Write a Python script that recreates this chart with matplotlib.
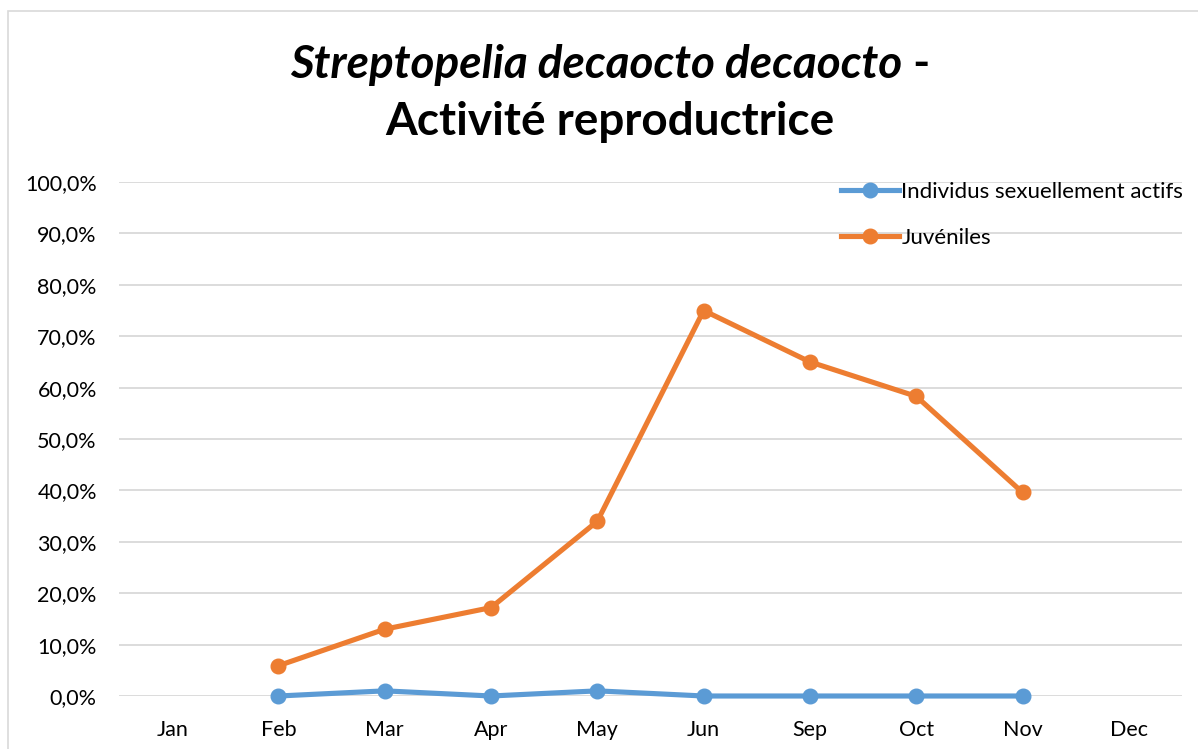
import matplotlib
matplotlib.use("Agg")
import numpy as np
import matplotlib.pyplot as plt
from matplotlib.patches import Rectangle
from matplotlib.ticker import FuncFormatter, MultipleLocator

plt.rcParams["font.family"] = ["Lato", "DejaVu Sans"]

# ---- data (percent) ----
months = ["Jan", "Feb", "Mar", "Apr", "May", "Jun", "Sep", "Oct", "Nov", "Dec"]
actifs = [np.nan, 0.0, 1.0, 0.0, 1.0, 0.0, 0.0, 0.0, 0.0, np.nan]
juveniles = [np.nan, 5.9, 13.0, 17.2, 34.0, 75.0, 65.0, 58.3, 39.6, np.nan]

BLUE = "#5B9BD5"
ORANGE = "#ED7D31"
GRID = "#D9D9D9"

W, H = 1198, 749
fig = plt.figure(figsize=(W / 100, H / 100), dpi=100)

# chart frame
fig.patches.append(Rectangle((8 / W, -0.1), 1.2, 1 - 11 / H + 0.1,
                             transform=fig.transFigure, fill=False,
                             edgecolor=GRID, linewidth=1.2))

ax = fig.add_axes([119 / W, 53 / H, (1182 - 119) / W, (696 - 182) / H])
x = np.arange(len(months))

ax.plot(x, actifs, color=BLUE, lw=3.7, marker="o", ms=10.5,
        label="Individus sexuellement actifs", clip_on=False, zorder=3)
ax.plot(x, juveniles, color=ORANGE, lw=3.7, marker="o", ms=10.5,
        label="Juvéniles", clip_on=False, zorder=3)

ax.set_xlim(-0.5, len(months) - 0.5)
ax.set_ylim(0, 100)
ax.yaxis.set_major_locator(MultipleLocator(10))
ax.yaxis.set_major_formatter(FuncFormatter(lambda v, p: f"{v:.1f}%".replace(".", ",")))
ax.set_xticks(x)
ax.set_xticklabels(months)
ax.tick_params(axis="both", length=0, labelsize=15.5, colors="black")
ax.tick_params(axis="x", pad=17)
ax.tick_params(axis="y", pad=16)
ax.grid(axis="y", color=GRID, lw=1.3)
ax.set_axisbelow(True)
for s in ax.spines.values():
    s.set_visible(False)

leg = ax.legend(loc="upper left", bbox_to_anchor=(841 / W, 1 - 182 / H),
                bbox_transform=fig.transFigure, frameon=False,
                fontsize=16, handlelength=2.6, handletextpad=0.12,
                labelspacing=1.17, borderaxespad=0, borderpad=0)

# title: italic species name followed by upright dash, second line centred
fig.canvas.draw()
r = fig.canvas.get_renderer()
tsize = 33
t1 = fig.text(0, 0, "Streptopelia decaocto decaocto", fontsize=tsize,
              fontweight="bold", fontstyle="italic", va="baseline")
t2 = fig.text(0, 0, " -", fontsize=tsize, fontweight="bold", va="baseline")
w1 = t1.get_window_extent(r).width
w2 = t2.get_window_extent(r).width
cx = 610
start = cx - (w1 + w2) / 2
y1 = 1 - 78 / H
t1.set_position((start / W, y1))
t2.set_position(((start + w1) / W, y1))
fig.text(cx / W, 1 - 135 / H, "Activité reproductrice", fontsize=tsize,
         fontweight="bold", ha="center", va="baseline")

fig.savefig("out.png", dpi=100)
